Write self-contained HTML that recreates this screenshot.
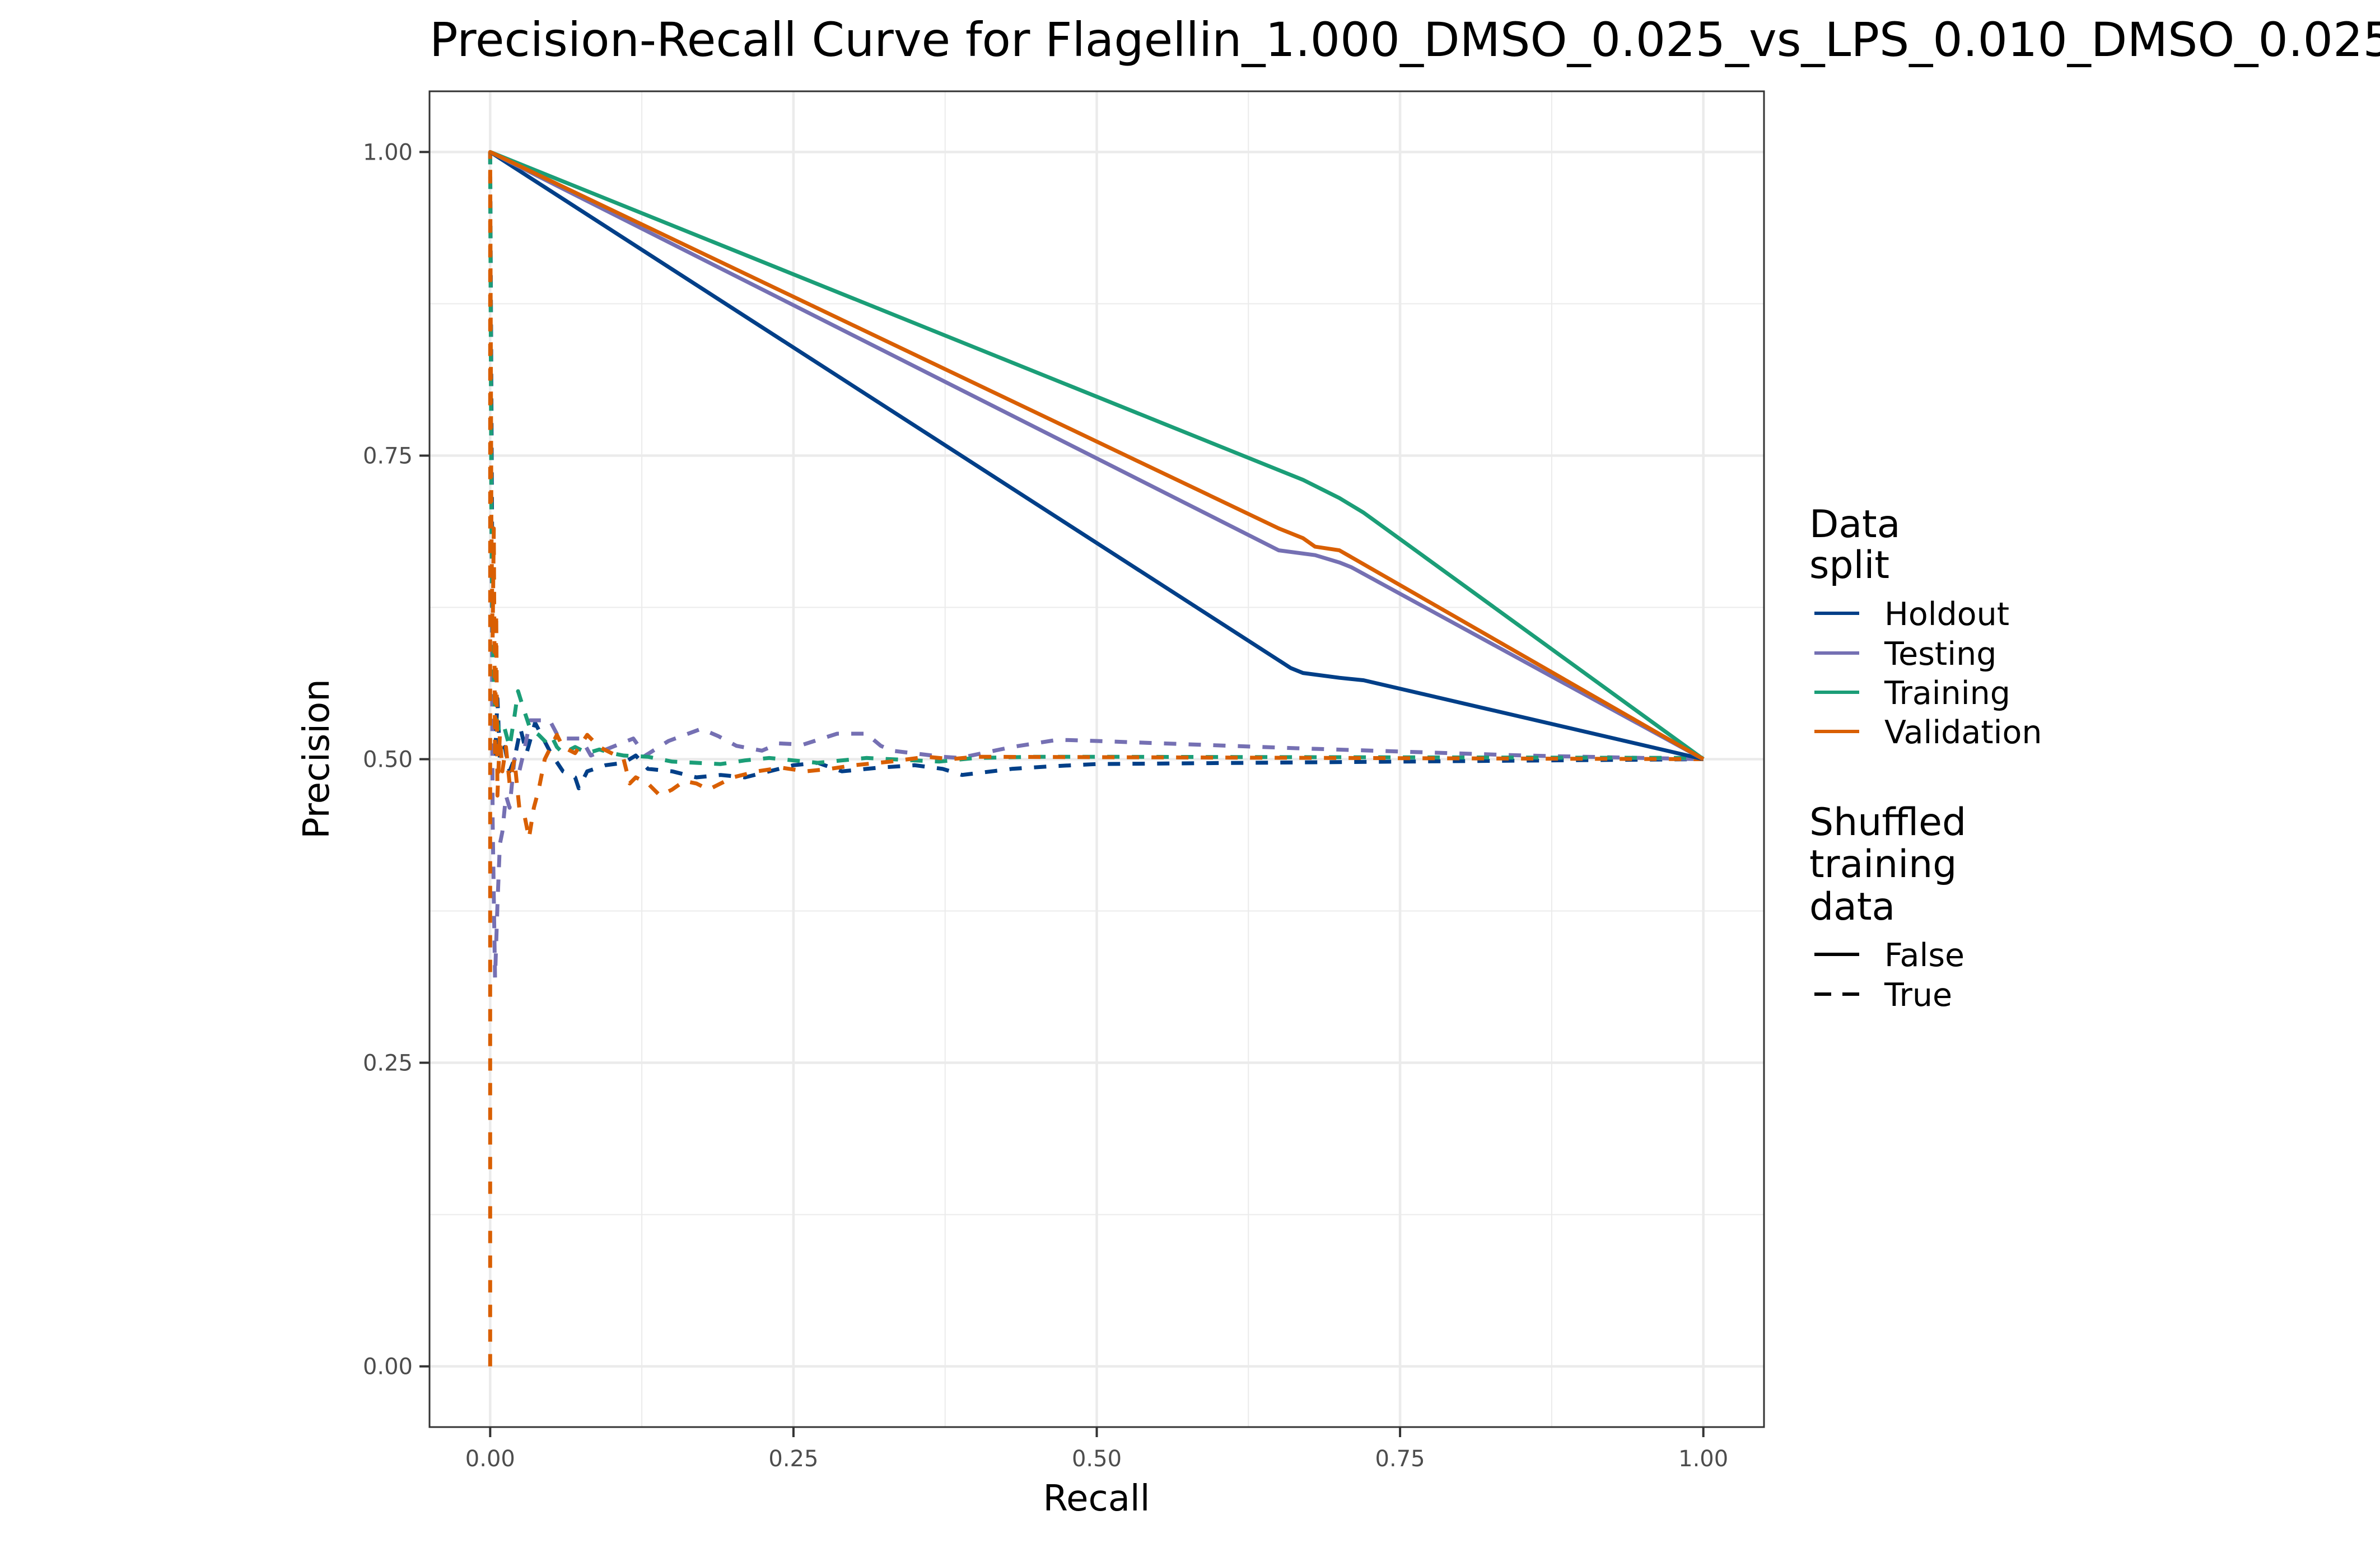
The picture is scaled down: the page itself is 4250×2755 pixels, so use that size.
<!DOCTYPE html>
<html><head><meta charset="utf-8"><style>
html,body{margin:0;padding:0;background:#fff;}
svg text{font-family:"DejaVu Sans","Liberation Sans",sans-serif;}
</style></head><body>
<svg id="chart" width="4250" height="2750" viewBox="0 0 4250 2750" xmlns="http://www.w3.org/2000/svg">
<rect width="4250" height="2750" fill="#fff"/>
<text x="767" y="100" font-size="84" fill="#000">Precision-Recall Curve for Flagellin_1.000_DMSO_0.025_vs_LPS_0.010_DMSO_0.025</text>
<g id="grid"></g>
<g id="series"></g>
<rect x="767" y="163" width="2383" height="2385" fill="none" stroke="#333" stroke-width="3"/>
<g id="axes"></g>
<text x="1958" y="2697" font-size="64" text-anchor="middle" fill="#000">Recall</text>
<text transform="translate(587,1355) rotate(-90)" font-size="64" text-anchor="middle" fill="#000">Precision</text>
<g>
<text x="3231" y="959" font-size="68" fill="#000">Data</text>
<text x="3231" y="1032" font-size="68" fill="#000">split</text>
<g><line x1="3240" y1="1095" x2="3320" y2="1095" stroke="#003f88" stroke-width="6"/><text x="3365" y="1116" font-size="57">Holdout</text></g>
<g><line x1="3240" y1="1166" x2="3320" y2="1166" stroke="#7570b3" stroke-width="6"/><text x="3365" y="1187" font-size="57">Testing</text></g>
<g><line x1="3240" y1="1236" x2="3320" y2="1236" stroke="#1b9e77" stroke-width="6"/><text x="3365" y="1257" font-size="57">Training</text></g>
<g><line x1="3240" y1="1306" x2="3320" y2="1306" stroke="#d95f02" stroke-width="6"/><text x="3365" y="1327" font-size="57">Validation</text></g>
<text x="3231" y="1491" font-size="68" fill="#000">Shuffled</text>
<text x="3231" y="1566" font-size="68" fill="#000">training</text>
<text x="3231" y="1642" font-size="68" fill="#000">data</text>
<g><line x1="3240" y1="1704" x2="3320" y2="1704" stroke="#000" stroke-width="6"/><text x="3365" y="1725" font-size="57">False</text></g>
<g><line x1="3240" y1="1775" x2="3320" y2="1775" stroke="#000" stroke-width="6" stroke-dasharray="30 20"/><text x="3365" y="1796" font-size="57">True</text></g>
</g>
</svg>
<script>
const xTicks=[0,0.25,0.5,0.75,1];
const yTicks=[0,0.25,0.5,0.75,1];
const tickLabels=["0.00","0.25","0.50","0.75","1.00"];
const seriesNames=["Holdout","Testing","Training","Validation"];
const seriesColors=["#003f88","#7570b3","#1b9e77","#d95f02"];
const holdoutRecall=[0,0.66,0.67,0.70,0.72,1];
const holdoutPrecision=[1,0.575,0.571,0.567,0.565,0.5];
const testingRecall=[0,0.65,0.68,0.70,0.71,1];
const testingPrecision=[1,0.672,0.668,0.662,0.658,0.5];
const trainingRecall=[0,0.67,0.70,0.72,1];
const trainingPrecision=[1,0.73,0.715,0.703,0.5];
const validationRecall=[0,0.65,0.67,0.68,0.70,1];
const validationPrecision=[1,0.69,0.682,0.675,0.672,0.5];
const holdoutShufRecall=[0,0.002,0.004,0.006,0.008,0.012,0.016,0.02,0.025,0.03,0.037,0.05,0.06,0.07,0.073,0.08,0.095,0.11,0.12,0.13,0.15,0.17,0.19,0.21,0.23,0.25,0.27,0.29,0.32,0.35,0.373,0.389,0.43,0.46,0.5,0.75,1];
const holdoutShufPrecision=[1,0.6,0.5,0.55,0.5,0.51,0.49,0.5,0.525,0.505,0.53,0.505,0.49,0.485,0.476,0.49,0.495,0.497,0.503,0.492,0.49,0.485,0.487,0.485,0.49,0.495,0.497,0.49,0.493,0.495,0.492,0.487,0.492,0.494,0.496,0.498,0.5];
const testingShufRecall=[0,0.002,0.004,0.006,0.008,0.01,0.013,0.016,0.02,0.024,0.028,0.033,0.049,0.057,0.075,0.083,0.118,0.128,0.147,0.174,0.188,0.203,0.224,0.238,0.258,0.286,0.31,0.322,0.331,0.373,0.387,0.43,0.468,0.5,0.665,0.853,1];
const testingShufPrecision=[1,0.45,0.32,0.38,0.43,0.44,0.47,0.46,0.5,0.49,0.507,0.532,0.532,0.517,0.517,0.503,0.517,0.503,0.515,0.525,0.519,0.511,0.507,0.513,0.512,0.521,0.521,0.511,0.507,0.502,0.501,0.51,0.516,0.515,0.509,0.503,0.5];
const trainingShufRecall=[0,0.001,0.002,0.004,0.008,0.012,0.016,0.02,0.023,0.028,0.033,0.04,0.045,0.05,0.055,0.06,0.07,0.08,0.09,0.1,0.11,0.13,0.15,0.17,0.19,0.21,0.23,0.25,0.27,0.29,0.31,0.33,0.35,0.37,0.4,0.45,0.5,1];
const trainingShufPrecision=[1,0.7,0.6,0.54,0.52,0.525,0.51,0.535,0.556,0.54,0.525,0.52,0.515,0.52,0.51,0.505,0.51,0.505,0.508,0.505,0.503,0.502,0.498,0.497,0.496,0.499,0.501,0.499,0.497,0.499,0.501,0.5,0.499,0.498,0.501,0.502,0.502,0.501];
const validationShufRecall=[0,0,0.001,0.002,0.003,0.004,0.005,0.006,0.008,0.01,0.013,0.016,0.02,0.024,0.028,0.032,0.036,0.04,0.045,0.05,0.055,0.06,0.07,0.08,0.09,0.1,0.11,0.115,0.12,0.13,0.14,0.15,0.16,0.17,0.18,0.2,0.22,0.24,0.26,0.28,0.3,0.33,0.36,0.38,0.4,1];
const validationShufPrecision=[0,1,0.69,0.6,0.69,0.5,0.62,0.47,0.52,0.49,0.51,0.48,0.5,0.46,0.455,0.435,0.46,0.475,0.5,0.51,0.52,0.51,0.505,0.52,0.51,0.505,0.5,0.48,0.485,0.48,0.47,0.475,0.482,0.48,0.475,0.485,0.49,0.493,0.49,0.492,0.495,0.498,0.502,0.5,0.502,0.5];

const X0=767,X1=3150,Y0=2548,Y1=163;
function xs(v){return X0+(v+0.05)/1.1*(X1-X0);}
function ys(v){return Y0-(v+0.05)/1.1*(Y0-Y1);}
const NS="http://www.w3.org/2000/svg";
const grid=document.getElementById('grid'),axes=document.getElementById('axes'),ser=document.getElementById('series');
function mk(tag,attrs,parent){const e=document.createElementNS(NS,tag);for(const k in attrs)e.setAttribute(k,attrs[k]);parent.appendChild(e);return e;}
for(let i=0;i<xTicks.length-1;i++){
  const m=(xTicks[i]+xTicks[i+1])/2;
  const l=mk('line',{x1:xs(m),x2:xs(m),y1:Y1,y2:Y0,stroke:'#ebebeb','stroke-width':2},grid);
  
  
  const n=(yTicks[i]+yTicks[i+1])/2;
  const l2=mk('line',{x1:X0,x2:X1,y1:ys(n),y2:ys(n),stroke:'#ebebeb','stroke-width':2},grid);
  
  
}
xTicks.forEach((t,i)=>{
  const g=mk('line',{x1:xs(t),x2:xs(t),y1:Y1,y2:Y0,stroke:'#ebebeb','stroke-width':4.5},grid);
  
  
  const tk=mk('line',{x1:xs(t),x2:xs(t),y1:Y0,y2:Y0+18,stroke:'#333','stroke-width':4},axes);
  
  
  const tx=mk('text',{x:xs(t),y:2618,'font-size':40,'text-anchor':'middle',fill:'#4d4d4d'},axes);
  tx.textContent=tickLabels[i];
  
  
});
yTicks.forEach((t,i)=>{
  const g=mk('line',{x1:X0,x2:X1,y1:ys(t),y2:ys(t),stroke:'#ebebeb','stroke-width':4.5},grid);
  
  
  const tk=mk('line',{x1:X0-18,x2:X0,y1:ys(t),y2:ys(t),stroke:'#333','stroke-width':4},axes);
  
  
  const tx=mk('text',{x:X0-30,y:ys(t)+14,'font-size':40,'text-anchor':'end',fill:'#4d4d4d'},axes);
  tx.textContent=tickLabels[i];
  
  
});
function draw(rx,py,color,dashed,name){
  let d='';
  for(let i=0;i<rx.length;i++){d+=(i?'L':'M')+xs(rx[i]).toFixed(1)+','+ys(py[i]).toFixed(1);}
  const attrs={d:d,fill:'none',stroke:color,'stroke-width':7,'stroke-linejoin':'round'};
  if(dashed)attrs['stroke-dasharray']='22 22';
  const p=mk('path',attrs,ser);
  
  
}
draw(holdoutShufRecall,holdoutShufPrecision,seriesColors[0],true,'holdout-shuffled-line');
draw(testingShufRecall,testingShufPrecision,seriesColors[1],true,'testing-shuffled-line');
draw(trainingShufRecall,trainingShufPrecision,seriesColors[2],true,'training-shuffled-line');
draw(validationShufRecall,validationShufPrecision,seriesColors[3],true,'validation-shuffled-line');
draw(holdoutRecall,holdoutPrecision,seriesColors[0],false,'holdout-line');
draw(testingRecall,testingPrecision,seriesColors[1],false,'testing-line');
draw(trainingRecall,trainingPrecision,seriesColors[2],false,'training-line');
draw(validationRecall,validationPrecision,seriesColors[3],false,'validation-line');
</script>
</body></html>
